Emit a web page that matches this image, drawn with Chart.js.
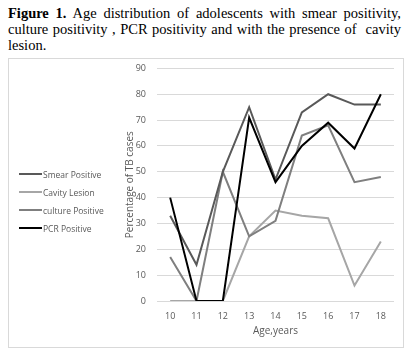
<!DOCTYPE html>
<html>
<head>
<meta charset="utf-8">
<script src="https://cdn.jsdelivr.net/npm/chart.js@4"></script>
<style>
  html, body { margin: 0; padding: 0; background: #fff; }
  body { width: 413px; height: 357px; position: relative; overflow: hidden; }
  #title {
    position: absolute; left: 8px; top: 5px; width: 393px;
    font-family: "Liberation Serif", "Times New Roman", serif;
    font-size: 14.5px; line-height: 16px; color: #000;
    text-align: justify;
  }
  #box {
    position: absolute; left: 8px; top: 58px; width: 396px; height: 290px;
    border: 1px solid #d9d9d9; box-sizing: border-box;
  }
  #wrap { position: absolute; left: 0; top: -7px; width: 394px; height: 295px; }
  #legend {
    position: absolute; left: 10px; top: 106px;
    font-family: "Open Sans", sans-serif; font-size: 8.5px; color: #595959;
  }
  .item { display: flex; align-items: center; height: 18px; }
  .swatch { width: 23px; height: 2px; margin-right: 1px; }
</style>
</head>
<body>
<div id="title"><b>Figure 1.</b> Age distribution of adolescents with smear positivity, culture positivity , PCR positivity and with the presence of &nbsp;cavity lesion.</div>
<div id="box">
  <div id="wrap"><canvas id="c"></canvas></div>
  <div id="legend"></div>
</div>
<script>
const ages = ["10","11","12","13","14","15","16","17","18"];
const smearPositive = [33, 14, 50, 75, 47, 73, 80, 76, 76];
const cavityLesion = [0, 0, 0, 25, 35, 33, 32, 6, 23];
const culturePositive = [17, 0, 50, 25, 31, 64, 68, 46, 48];
const pcrPositive = [40, 0, 0, 71, 46, 60, 69, 59, 80];

const seriesNames = ["Smear Positive", "Cavity Lesion", "culture Positive", "PCR Positive"];
const seriesData = [smearPositive, cavityLesion, culturePositive, pcrPositive];
const seriesColors = ["#595959", "#a6a6a6", "#7f7f7f", "#000000"];

const datasets = seriesNames.map((n, i) => ({
  label: n,
  data: seriesData[i],
  borderColor: seriesColors[i],
  backgroundColor: seriesColors[i],
  borderWidth: 2,
  pointRadius: 0,
  tension: 0,
  fill: false
}));
datasets[0].order = 2; datasets[1].order = 4; datasets[2].order = 3; datasets[3].order = 1;

const leg = document.getElementById('legend');
seriesNames.forEach((n, i) => {
  const d = document.createElement('div'); d.className = 'item';
  const s = document.createElement('div'); s.className = 'swatch'; s.style.background = seriesColors[i];
  const t = document.createElement('span'); t.textContent = n;
  d.appendChild(s); d.appendChild(t); leg.appendChild(d);
});

const font = { family: "Open Sans", size: 9 };
new Chart(document.getElementById('c'), {
  type: 'line',
  data: { labels: ages, datasets },
  options: {
    responsive: true, maintainAspectRatio: false, animation: false,
    layout: { padding: { left: 111, right: 9, top: 2, bottom: 6 } },
    plugins: { legend: { display: false }, tooltip: { enabled: false } },
    scales: {
      x: {
        offset: true,
        grid: { display: false },
        border: { display: false },
        ticks: { color: '#595959', font, padding: 2 },
        title: { display: true, text: 'Age,years', color: '#595959', font: { family: "Open Sans", size: 10 }, padding: { top: 0 } },
        afterFit: (s) => { s.height = 40; }
      },
      y: {
        min: 0, max: 90,
        ticks: { stepSize: 10, color: '#595959', font, padding: 11 },
        grid: { color: '#d9d9d9', drawTicks: false },
        border: { display: false },
        title: { display: true, text: 'Percentage of TB cases', color: '#595959', font: { family: "Open Sans", size: 10 }, padding: { bottom: 0 } },
        afterFit: (s) => { s.width = 37; }
      }
    }
  }
});
</script>
</body>
</html>
